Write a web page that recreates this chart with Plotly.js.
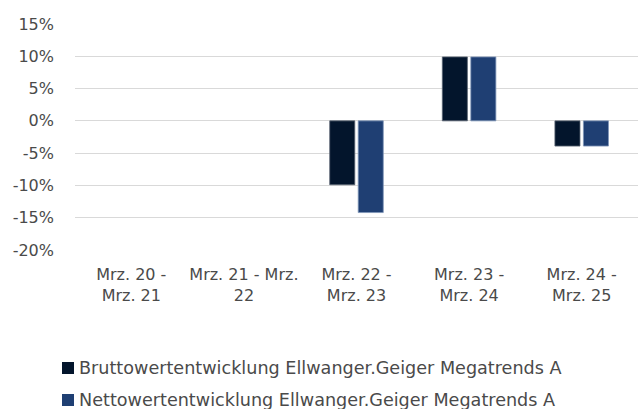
<!DOCTYPE html>
<html><head><meta charset="utf-8">
<script src="https://cdn.plot.ly/plotly-3.0.1.min.js"></script>
<style>html,body{margin:0;padding:0;background:#fff;}#chart{width:638px;height:409px;}</style>
</head><body><div id="chart"></div>
<script>
const categories = ["Mrz. 20 -<br>Mrz. 21", "Mrz. 21 - Mrz.<br>22", "Mrz. 22 -<br>Mrz. 23", "Mrz. 23 -<br>Mrz. 24", "Mrz. 24 -<br>Mrz. 25"];
const seriesNames = ["Bruttowertentwicklung Ellwanger.Geiger Megatrends A", "Nettowertentwicklung Ellwanger.Geiger Megatrends A"];
const brutto = [null, null, -0.099, 0.099, -0.039];
const netto = [null, null, -0.142, 0.099, -0.039];
const yTicks = [-0.20, -0.15, -0.10, -0.05, 0, 0.05, 0.10, 0.15];
const yTickLabels = ["-20%", "-15%", "-10%", "-5%", "0%", "5%", "10%", "15%"];
const colors = ["#03152c", "#1f3f73"];
const lineColors = ["#5a6472", "#7f95b8"];

const font = "'DejaVu Sans', sans-serif";
const textColor = "#4a4a4a";
const W = 638, H = 409, mL = 75, mR = 0, mT = 24, mB = 159;
const pw = W - mL - mR, ph = H - mT - mB;
const px2x = p => (p - mL) / pw;
const px2y = p => (H - mB - p) / ph;

const seriesValues = [brutto, netto];
const traces = seriesValues.map((vals, i) => ({
  type: "bar", x: categories, y: vals, name: seriesNames[i], showlegend: false,
  marker: {color: colors[i], line: {color: lineColors[i], width: 0.8}}
}));

// custom legend (square swatch + text) placed below the plot
const legendRows = [368, 400];
const shapes = seriesNames.map((n, i) => ({
  type: "rect", xref: "paper", yref: "paper", layer: "above",
  x0: px2x(62), x1: px2x(74), y0: px2y(legendRows[i] + 6), y1: px2y(legendRows[i] - 6),
  fillcolor: colors[i], line: {width: 0}
}));
const annotations = seriesNames.map((n, i) => ({
  xref: "paper", yref: "paper", x: px2x(77), y: px2y(legendRows[i]), xanchor: "left", yanchor: "middle",
  text: n, showarrow: false, font: {family: font, size: 17.6, color: textColor}
}));

const layout = {
  width: W, height: H,
  margin: {l: mL, r: mR, t: mT, b: mB},
  paper_bgcolor: "#fff", plot_bgcolor: "#fff",
  font: {family: font, size: 16, color: textColor},
  barmode: "group", bargap: 0.494, bargroupgap: 0.12,
  showlegend: false,
  shapes: shapes, annotations: annotations,
  xaxis: {type: "category", showgrid: false, zeroline: false, showline: false, ticks: "",
          ticklabelstandoff: 13,
          tickfont: {family: font, size: 16, color: textColor}, fixedrange: true},
  yaxis: {range: [-0.20, 0.15], tickvals: yTicks, ticktext: yTickLabels, showgrid: true,
          gridcolor: "#d9d9d9", gridwidth: 1, zeroline: true, zerolinecolor: "#d9d9d9", zerolinewidth: 1,
          showline: false, ticks: "", ticklabelstandoff: 20,
          tickfont: {family: font, size: 16, color: textColor}, fixedrange: true}
};
Plotly.newPlot("chart", traces, layout, {displayModeBar: false, staticPlot: true});
</script></body></html>
